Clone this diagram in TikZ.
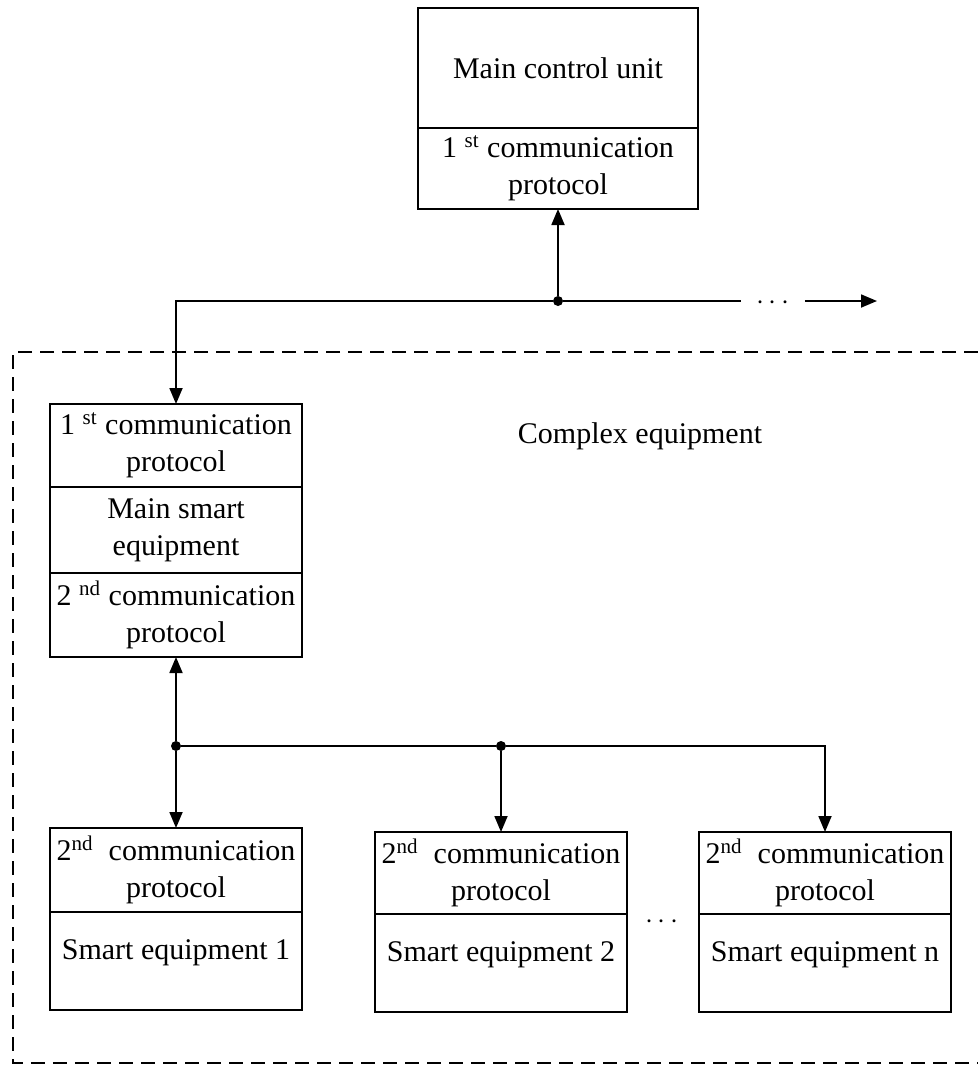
\documentclass[tikz,border=0pt]{standalone}
\usepackage{fontspec}
\setmainfont{Liberation Serif}
\usetikzlibrary{arrows.meta, positioning}

\begin{document}
\begin{tikzpicture}[
    x=0.5pt, y=-0.5pt,
    node distance=0pt,
    part/.style={rectangle, draw=black, line width=0.9pt, outer sep=0pt,
                 align=center, inner sep=1pt, font=\fontsize{15}{18.5}\selectfont},
    lowpart/.style={part, minimum width=126pt, minimum height=49pt, text depth=11pt},
    txt/.style={font=\fontsize{15}{18.5}\selectfont, inner sep=0pt},
    arrow/.style={-{Triangle[length=8pt, width=6.5pt]}, line width=0.9pt},
    bus/.style={line width=0.9pt},
    junction/.style={circle, fill=black, inner sep=0pt, minimum size=5pt},
    frame/.style={dash pattern=on 7pt off 4pt, line width=1pt}
]
    \useasboundingbox (0,0) rectangle (978,1066);

    \node[part, minimum width=140pt, minimum height=60pt] (mcu) at (558,68)
        {Main control unit};
    \node[part, minimum width=140pt, minimum height=40.5pt] (mcuprot) [below=of mcu]
        {1 \textsuperscript{st} communication\\protocol};

    \node[part, minimum width=126pt, minimum height=41.5pt] (mse1) at (176,445.5)
        {1 \textsuperscript{st} communication\\protocol};
    \node[part, minimum width=126pt, minimum height=43pt] (mse2) [below=of mse1]
        {Main smart\\equipment};
    \node[part, minimum width=126pt, minimum height=42pt] (mse3) [below=of mse2]
        {2 \textsuperscript{nd} communication\\protocol};

    \node[part, minimum width=126pt, minimum height=42pt] (se1a) at (176,870)
        {2\textsuperscript{nd}\ \ communication\\protocol};
    \node[lowpart] (se1b) [below=of se1a] {Smart equipment 1};
    \node[part, minimum width=126pt, minimum height=41pt] (se2a) at (501,873)
        {2\textsuperscript{nd}\ \ communication\\protocol};
    \node[lowpart] (se2b) [below=of se2a] {Smart equipment 2};
    \node[part, minimum width=126pt, minimum height=41pt] (sena) at (825,873)
        {2\textsuperscript{nd}\ \ communication\\protocol};
    \node[lowpart] (senb) [below=of sena] {Smart equipment n};
    \node[txt] (more2) at (662,922) {$\cdots$};

    \node[txt] (cplx) at (640,436) {Complex equipment};

    \node[junction] (j1) at (558,301) {};
    \node[txt, minimum width=31.5pt] (more1) at (773,303) {$\cdots$};
    \coordinate (end1) at (877,301);
    \node[junction] (j2) at (176,746) {};
    \node[junction] (j3) at (501,746) {};

    \draw[arrow] (j1) -- (mcuprot);
    \draw[arrow] (j1) -| (mse1);
    \draw[bus] (j1) -- (j1 -| more1.west);
    \draw[arrow] (j1 -| more1.east) -- (end1);

    \draw[arrow] (j2) -- (mse3);
    \draw[arrow] (j2) -- (se1a);
    \draw[bus] (j2) -- (j3);
    \draw[arrow] (j3) -- (se2a);
    \draw[arrow] (j3) -| (sena);

    \draw[frame] (978,352) -- (13,352) -- (13,1063) -- (978,1063);
\end{tikzpicture}
\end{document}
